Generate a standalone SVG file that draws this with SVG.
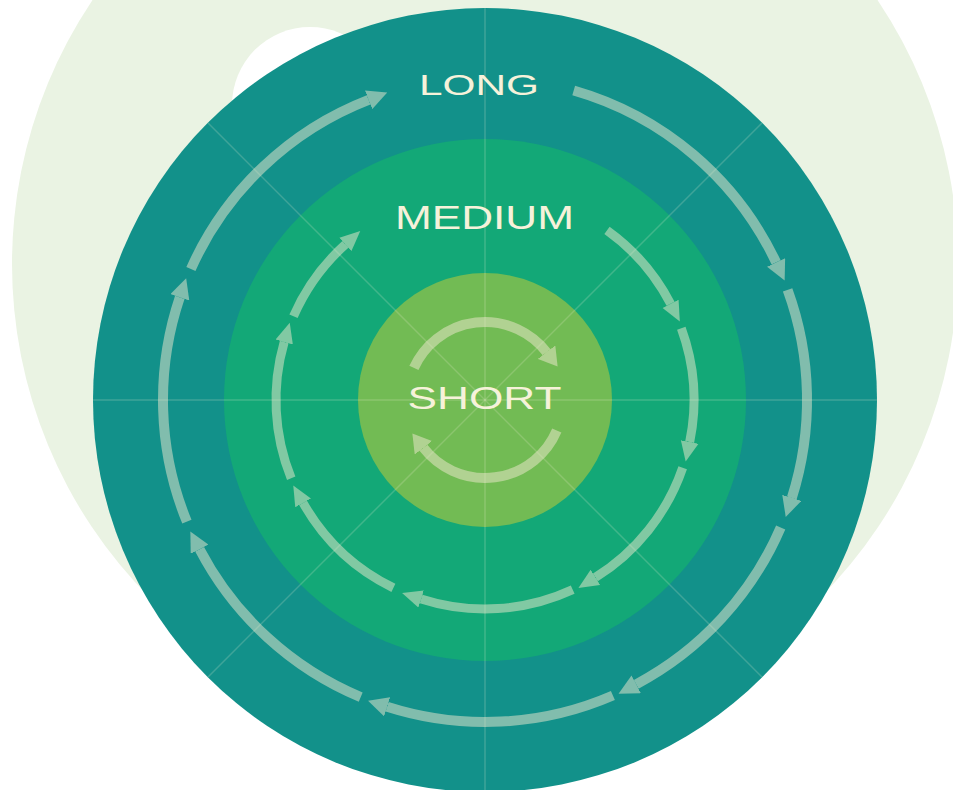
<svg xmlns="http://www.w3.org/2000/svg" width="953" height="790" viewBox="0 0 953 790">
  <defs>
    <style>
      .lbl { font-family: "Liberation Sans", Arial, sans-serif; fill: #F6F2DA; lengthAdjust: spacingAndGlyphs; }
      .axis { stroke: #F2EED6; stroke-opacity: 0.2; stroke-width: 1.5; fill: none; }
      .arc { fill: none; stroke: #EFE9D0; stroke-opacity: 0.5; stroke-linecap: butt; }
      .outer { stroke-width: 10; marker-end: url(#headL); }
      .mid { stroke-width: 9; marker-end: url(#headM); }
      .inner { stroke-width: 10; marker-end: url(#headS); }
    </style>
    <marker id="headL" markerUnits="userSpaceOnUse" markerWidth="20" markerHeight="20" viewBox="0 0 20 20" refX="0" refY="10" orient="auto">
      <path d="M0,0 L20,10 L0,20 Z" fill="#EFE9D0" fill-opacity="0.5"/>
    </marker>
    <marker id="headM" markerUnits="userSpaceOnUse" markerWidth="20" markerHeight="20" viewBox="0 0 20 20" refX="0" refY="10" orient="auto">
      <path d="M0,1 L20,10 L0,19 Z" fill="#EFE9D0" fill-opacity="0.5"/>
    </marker>
    <marker id="headS" markerUnits="userSpaceOnUse" markerWidth="18" markerHeight="22" viewBox="0 0 18 22" refX="0" refY="11" orient="auto">
      <path d="M0,0 L18,11 L0,22 Z" fill="#EFE9D0" fill-opacity="0.5"/>
    </marker>
  </defs>

  <g id="background">
    <rect x="0" y="0" width="953" height="790" fill="#FFFFFF"/>
    <circle cx="485" cy="264" r="473" fill="#EAF3E3"/>
    <circle cx="310" cy="105" r="78" fill="#FFFFFF"/>
  </g>

  <g id="long">
    <circle cx="485" cy="400" r="392" fill="#12918A"/>
  </g>
  <g id="medium">
    <circle cx="485" cy="400" r="261" fill="#13A877"/>
  </g>
  <g id="short">
    <circle cx="485" cy="400" r="127" fill="#72BB54"/>
  </g>

  <g id="axes">
    <line class="axis" x1="485" y1="8" x2="485" y2="792"/>
    <line class="axis" x1="93" y1="400" x2="877" y2="400"/>
    <line class="axis" x1="207.8" y1="122.8" x2="762.2" y2="677.2"/>
    <line class="axis" x1="762.2" y1="122.8" x2="207.8" y2="677.2"/>
  </g>

  <g id="connectors">
    <path class="arc outer" d="M573.7,90.5 A322,322 0 0 1 776.1,262.4"/>
    <path class="arc outer" d="M787.6,289.9 A322,322 0 0 1 791.8,497.9"/>
    <path class="arc outer" d="M780.7,527.4 A322,322 0 0 1 636.2,684.3"/>
    <path class="arc outer" d="M612.9,695.5 A322,322 0 0 1 387.1,706.8"/>
    <path class="arc outer" d="M360.7,697.1 A322,322 0 0 1 199.6,549.2"/>
    <path class="arc outer" d="M186.9,521.7 A322,322 0 0 1 179.8,297.3"/>
    <path class="arc outer" d="M190.9,269.0 A322,322 0 0 1 368.6,99.8"/>

    <path class="arc mid" d="M607.0,230.3 A209,209 0 0 1 670.6,303.8"/>
    <path class="arc mid" d="M681.3,328.2 A209,209 0 0 1 689.7,442.0"/>
    <path class="arc mid" d="M682.7,467.7 A209,209 0 0 1 595.4,577.4"/>
    <path class="arc mid" d="M572.7,589.7 A209,209 0 0 1 421.1,599.0"/>
    <path class="arc mid" d="M393.4,587.9 A209,209 0 0 1 303.1,502.9"/>
    <path class="arc mid" d="M291.2,478.3 A209,209 0 0 1 284.2,342.0"/>
    <path class="arc mid" d="M293.5,316.3 A209,209 0 0 1 345.4,244.4"/>

    <path class="arc inner" d="M413.9,367.9 A78,78 0 0 1 546.6,352.2"/>
    <path class="arc inner" d="M556.8,430.5 A78,78 0 0 1 423.4,447.8"/>
  </g>

  <g id="labels">
    <text class="lbl" x="419" y="95" font-size="29.5" textLength="120" lengthAdjust="spacingAndGlyphs">LONG</text>
    <text class="lbl" x="395" y="228.5" font-size="32.5" textLength="179" lengthAdjust="spacingAndGlyphs">MEDIUM</text>
    <text class="lbl" x="407.5" y="408.5" font-size="31" textLength="154" lengthAdjust="spacingAndGlyphs">SHORT</text>
  </g>
</svg>
